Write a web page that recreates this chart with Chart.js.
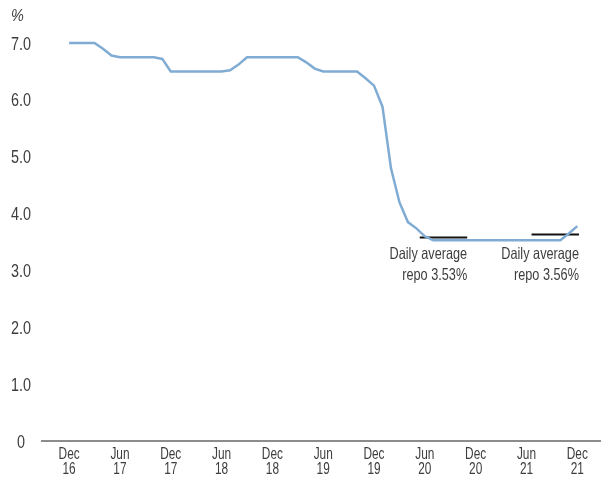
<!DOCTYPE html>
<html>
<head>
<meta charset="utf-8">
<script src="https://cdn.jsdelivr.net/npm/chart.js@4/dist/chart.umd.min.js"></script>
<style>
  html, body { margin: 0; padding: 0; background: #fff; }
  #wrap { width: 601px; height: 484px; position: relative; }
</style>
</head>
<body>
<div id="wrap"><canvas id="repoChart"></canvas></div>
<script>
// months counted from Dec 2016 (0) to Dec 2021 (60)
var months = [];
for (var i = 0; i <= 60; i++) months.push(i);

var repoRate = [
  7.0, 7.0, 7.0, 7.0, 6.9, 6.78, 6.75, 6.75, 6.75, 6.75, 6.75, 6.72,
  6.5, 6.5, 6.5, 6.5, 6.5, 6.5, 6.5, 6.52, 6.62, 6.75, 6.75, 6.75,
  6.75, 6.75, 6.75, 6.75, 6.66, 6.55, 6.5, 6.5, 6.5, 6.5, 6.5, 6.38,
  6.25, 5.88, 4.8, 4.2, 3.85, 3.74, 3.6, 3.53, 3.53, 3.53, 3.53, 3.53,
  3.53, 3.53, 3.53, 3.53, 3.53, 3.53, 3.53, 3.53, 3.53, 3.53, 3.53, 3.65,
  3.78
];

var yTicks = [0, 1, 2, 3, 4, 5, 6, 7];
var yTickLabels = ["0", "1.0", "2.0", "3.0", "4.0", "5.0", "6.0", "7.0"];

var tickMonths = [0, 6, 12, 18, 24, 30, 36, 42, 48, 54, 60];
var tickLabels = [
  ["Dec", "16"], ["Jun", "17"], ["Dec", "17"], ["Jun", "18"], ["Dec", "18"],
  ["Jun", "19"], ["Dec", "19"], ["Jun", "20"], ["Dec", "20"], ["Jun", "21"],
  ["Dec", "21"]
];

// daily average markers
var avg2020 = { from: 41.4, to: 47, value: 3.58, text: ["Daily average", "repo 3.53%"] };
var avg2021 = { from: 54.6, to: 60.2, value: 3.63, text: ["Daily average", "repo 3.56%"] };
var noteAnchor = 3.53;

var fontFamily = "'Liberation Sans', Arial, sans-serif";

// condensed text: Liberation Sans squeezed horizontally
function narrowText(ctx, text, x, y, size, squeeze, align, style) {
  ctx.save();
  ctx.font = (style ? style + " " : "") + size + "px " + fontFamily;
  ctx.textAlign = align;
  ctx.translate(x, y);
  ctx.scale(squeeze, 1);
  ctx.fillText(text, 0, 0);
  ctx.restore();
}

var labelsPlugin = {
  id: "labels",
  afterDraw: function (chart) {
    var ctx = chart.ctx,
      xs = chart.scales.x,
      ys = chart.scales.y;
    ctx.save();
    ctx.fillStyle = "#3d3d3d";
    ctx.textBaseline = "alphabetic";

    narrowText(ctx, "%", 11, 21, 17, 0.85, "left", "italic");

    yTicks.forEach(function (v, i) {
      narrowText(ctx, yTickLabels[i], 21, ys.getPixelForValue(v) + 6.5, 18, 0.8, "center");
    });

    tickMonths.forEach(function (m, i) {
      var x = xs.getPixelForValue(m);
      narrowText(ctx, tickLabels[i][0], x, 458.5, 16, 0.74, "center");
      narrowText(ctx, tickLabels[i][1], x, 474, 16, 0.74, "center");
    });

    var base = ys.getPixelForValue(noteAnchor);
    [avg2020, avg2021].forEach(function (a) {
      var x = xs.getPixelForValue(a.to);
      narrowText(ctx, a.text[0], x, base + 19, 16.5, 0.77, "right");
      narrowText(ctx, a.text[1], x, base + 40, 16.5, 0.77, "right");
    });
    ctx.restore();
  },
};

const ctx = document.getElementById("repoChart");
var chart = new Chart(ctx, {
  type: "line",
  data: {
    datasets: [
      {
        label: "Repo rate",
        data: months.map((m, i) => ({ x: m, y: repoRate[i] })),
        borderColor: "#80acd4",
        borderWidth: 2.5,
        pointRadius: 0,
        tension: 0,
        clip: false,
      },
      {
        label: "Daily average 2020",
        data: [
          { x: avg2020.from, y: avg2020.value },
          { x: avg2020.to, y: avg2020.value },
        ],
        borderColor: "#111",
        borderWidth: 2,
        pointRadius: 0,
        clip: false,
      },
      {
        label: "Daily average 2021",
        data: [
          { x: avg2021.from, y: avg2021.value },
          { x: avg2021.to, y: avg2021.value },
        ],
        borderColor: "#111",
        borderWidth: 2,
        pointRadius: 0,
        clip: false,
      },
    ],
  },
  options: {
    responsive: true,
    maintainAspectRatio: false,
    animation: false,
    layout: { padding: { top: 43, right: 0, left: 0, bottom: 0 } },
    plugins: {
      legend: { display: false },
      tooltip: { enabled: false },
    },
    scales: {
      x: {
        type: "linear",
        min: -3.2,
        max: 62.8,
        grid: { display: false, drawTicks: false },
        border: { display: true, color: "#8c8c8c", width: 2 },
        afterFit: function (scale) {
          scale.height = 43;
        },
        ticks: { display: false },
      },
      y: {
        min: 0,
        max: 7,
        grid: { display: false, drawTicks: false },
        border: { display: false },
        afterFit: function (scale) {
          scale.width = 42;
        },
        ticks: { display: false, stepSize: 1 },
      },
    },
  },
  plugins: [labelsPlugin],
});
</script>
</body>
</html>
